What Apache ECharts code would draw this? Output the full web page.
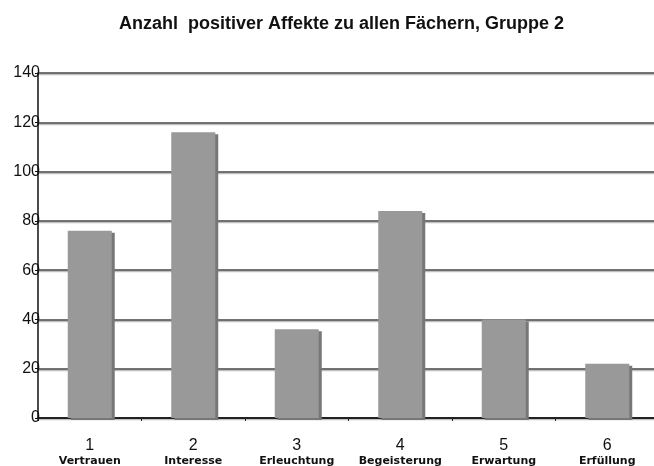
<!DOCTYPE html>
<html>
<head>
<meta charset="utf-8">
<script src="https://cdn.jsdelivr.net/npm/echarts@6/dist/echarts.min.js"></script>
<style>
html,body{margin:0;padding:0;background:#fff;}
#chart{width:654px;height:466px;}
</style>
</head>
<body>
<div id="chart"></div>
<script>
// Kategorien und Werte
var nummern = ['1', '2', '3', '4', '5', '6'];
var affekte = ['Vertrauen', 'Interesse', 'Erleuchtung', 'Begeisterung', 'Erwartung', 'Erfüllung'];
var anzahl = [76, 116, 36, 84, 40, 22];
var yTicks = [0, 20, 40, 60, 80, 100, 120, 140];

var labels = [];
for (var i = 0; i < nummern.length; i++) {
    labels.push(nummern[i] + '\n' + affekte[i]);
}

var chart = echarts.init(document.getElementById('chart'));
var option = {
    animation: false,
    title: {
        text: 'Anzahl  positiver Affekte zu allen Fächern, Gruppe 2',
        left: 114,
        top: 10,
        textStyle: { fontFamily: 'Liberation Sans', fontWeight: 'bold', fontSize: 18, color: '#111' }
    },
    grid: { left: 38, top: 73, width: 621, height: 345, outerBoundsMode: 'none' },
    xAxis: {
        type: 'category',
        data: labels,
        axisLine: { lineStyle: { color: '#222', width: 2 } },
        axisTick: { show: true, length: 3, lineStyle: { color: '#222' } },
        axisLabel: {
            margin: 20,
            interval: 0,
            formatter: function (v) {
                var p = v.split('\n');
                return '{n|' + p[0] + '}\n{b|' + p[1] + '}';
            },
            rich: {
                n: { fontFamily: 'Liberation Sans', fontSize: 16, color: '#111', lineHeight: 16 },
                b: { fontFamily: 'DejaVu Sans', fontWeight: 'bold', fontSize: 11, color: '#111', lineHeight: 14 }
            }
        }
    },
    yAxis: {
        type: 'value',
        min: yTicks[0],
        max: yTicks[yTicks.length - 1],
        interval: 20,
        axisLine: { show: true, lineStyle: { color: '#111', width: 1.5 } },
        axisTick: { show: true, length: 3, lineStyle: { color: '#111' } },
        axisLabel: { margin: -2, fontFamily: 'Liberation Sans', fontSize: 16, color: '#111' },
        splitLine: {
            lineStyle: { color: '#444', width: 1.5, shadowColor: 'rgba(0,0,0,0.25)', shadowOffsetY: 1.5, shadowBlur: 0 }
        }
    },
    series: [{
        type: 'bar',
        data: anzahl,
        barWidth: 44,
        itemStyle: {
            color: '#999999',
            shadowColor: '#777777',
            shadowOffsetX: 3,
            shadowOffsetY: 2,
            shadowBlur: 0
        }
    }]
};
chart.setOption(option);
</script>
</body>
</html>
